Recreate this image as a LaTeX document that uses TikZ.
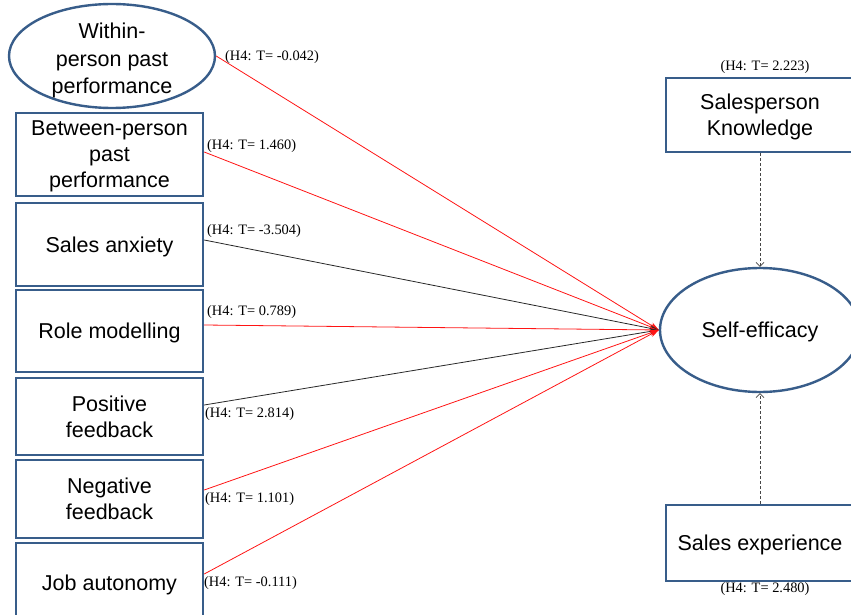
\documentclass[tikz,border=0pt]{standalone}
\usepackage{fontspec}
\setmainfont{Liberation Sans}
\newfontfamily\tvalfont{Liberation Serif}
\usetikzlibrary{shapes.geometric,arrows.meta}

\definecolor{boxblue}{RGB}{56,93,138}
\definecolor{pathred}{RGB}{255,20,20}
\definecolor{pathdark}{RGB}{40,40,40}
\definecolor{modgray}{RGB}{70,70,70}

\begin{document}
\begin{tikzpicture}[x=1pt,y=-1pt,
  construct/.style={draw=boxblue, line width=2.4pt, fill=white, align=center,
    font=\fontsize{21.5}{26}\selectfont, inner sep=0pt, text depth=-1.5pt},
  latent/.style={construct, ellipse},
  caption/.style={align=center, font=\fontsize{21.5}{27.5}\selectfont, inner sep=0pt},
  tval/.style={font=\tvalfont\fontsize{14.4}{16}\selectfont, inner sep=0pt},
  effect/.style={line width=0.8pt, -{Stealth[length=9pt,width=6pt]}},
  redpath/.style={effect, draw=pathred},
  darkpath/.style={effect, draw=pathdark},
  moderator/.style={draw=modgray, dashed, dash pattern=on 3pt off 2pt, line width=0.7pt,
    -{Straight Barb[length=4pt,width=8pt]}}]

\useasboundingbox (0,0) rectangle (851,615);

% antecedents
\node[latent, minimum width=206pt, minimum height=104pt] (within) at (112,56) {};
\node[caption] (withintext) at (112,60.5) {Within-\\person past\\performance};
\node[construct, minimum width=187pt, minimum height=83pt] (between) at (109.5,154.5) {Between-person\\past\\performance};
\node[construct, minimum width=187pt, minimum height=83pt] (anxiety) at (109.5,244.5) {Sales anxiety};
\node[construct, minimum width=187pt, minimum height=82pt] (rolem) at (109.5,331) {Role modelling};
\node[construct, minimum width=187pt, minimum height=77pt] (posfb) at (109.5,416.5) {Positive\\feedback};
\node[construct, minimum width=187pt, minimum height=78pt] (negfb) at (109.5,499) {Negative\\feedback};
\node[construct, minimum width=187pt, minimum height=80pt] (jobaut) at (109.5,583) {Job autonomy};

% outcome and moderators
\node[latent, minimum width=200pt, minimum height=124pt] (selfeff) at (760,330) {Self-efficacy};
\node[construct, minimum width=188pt, minimum height=74pt] (knowledge) at (760,115) {Salesperson\\Knowledge};
\node[construct, minimum width=188pt, minimum height=76pt] (experience) at (760,543) {Sales experience};

% structural paths
\draw[redpath] (within.east) -- (selfeff.west);
\draw[redpath] ([yshift=2.5pt]between.east) -- (selfeff.west);
\draw[darkpath] ([yshift=4.5pt]anxiety.east) -- (selfeff.west);
\draw[redpath] ([yshift=6pt]rolem.east) -- (selfeff.west);
\draw[darkpath] ([yshift=11.5pt]posfb.east) -- (selfeff.west);
\draw[redpath] ([yshift=9pt]negfb.east) -- (selfeff.west);
\draw[redpath] ([yshift=9pt]jobaut.east) -- (selfeff.west);

\draw[moderator] (knowledge.south) -- (selfeff.north);
\draw[moderator] (experience.north) -- (selfeff.south);

% t-values
\node[tval, anchor=west] (t1) at (225,57) {(H4: T= -0.042)};
\node[tval, anchor=west] (t2) at (207,146) {(H4: T= 1.460)};
\node[tval, anchor=west] (t3) at (207,231) {(H4: T= -3.504)};
\node[tval, anchor=west] (t4) at (207,312) {(H4: T= 0.789)};
\node[tval, anchor=west] (t5) at (205,414) {(H4: T= 2.814)};
\node[tval, anchor=west] (t6) at (205,499) {(H4: T= 1.101)};
\node[tval, anchor=west] (t7) at (204,583) {(H4: T= -0.111)};
\node[tval] (t8) at (765,67) {(H4: T= 2.223)};
\node[tval] (t9) at (765,589) {(H4: T= 2.480)};
\end{tikzpicture}
\end{document}
